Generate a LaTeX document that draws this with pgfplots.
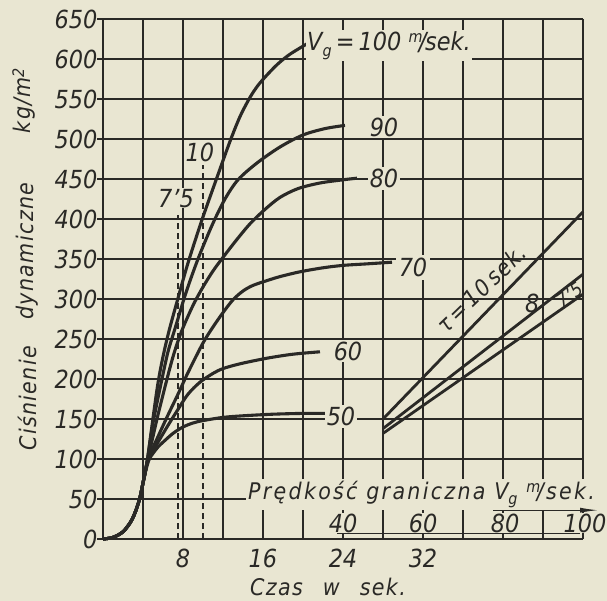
\documentclass[border=0pt]{standalone}
\usepackage{fontspec}
\setmainfont{DejaVu Sans Condensed}
\usepackage{pgfplots}
\pgfplotsset{compat=1.18}
\usetikzlibrary{arrows.meta}
\definecolor{paper}{HTML}{E9E6D2}
\definecolor{ink}{HTML}{2A2926}
\newcommand{\num}{\fontsize{25}{28}\selectfont\itshape}
\newcommand{\txt}{\fontsize{23}{26}\selectfont\itshape\addfontfeature{LetterSpace=6}}
\newcommand{\wtxt}{\fontsize{23}{26}\selectfont\itshape\addfontfeature{LetterSpace=10}}
\newcommand{\lowsub}[1]{\raisebox{-0.45ex}{\fontsize{16}{16}\selectfont #1}}
\newcommand{\highsup}[1]{\raisebox{0.55ex}{\fontsize{16}{16}\selectfont #1}}
\begin{document}
\begin{tikzpicture}[x=1bp,y=1bp]
\useasboundingbox (-103,-62) rectangle (504,539);
\fill[paper] (-103,-62) rectangle (504,539);
\begin{axis}[
  at={(0,0)}, anchor=south west,
  scale only axis, width=480bp, height=520bp,
  xmin=0, xmax=48, ymin=0, ymax=650,
  axis lines*=left,
  axis line style={ink, line width=2.6bp},
  clip=false,
  xtick={0,4,...,48},
  xticklabels={,,8,,16,,24,,32,,,,},
  ytick={0,50,...,650},
  yticklabels={0,50,100,150,200,250,300,350,400,450,500,550,600,650},
  grid=major,
  major grid style={ink, line width=1.35bp},
  tick align=outside,
  xtick style={draw=none},
  ytick style={ink, line width=1.4bp},
  major tick length=6bp,
  tick label style={font=\num, text=ink},
  yticklabel style={xshift=4bp},
]
% curve 100
\addplot[ink, line width=3.1bp, smooth] coordinates {
(0,0) (1,2) (2,9) (2.8,22) (3.3,36) (3.7,52) (4.0,70) (4.2,82)
(4.45,100) (5.5,195) (6.4,250) (7.5,301) (8.5,345) (9.9,399) (11.4,452)
(12.7,497) (13.7,528) (14.7,552) (15.5,567) (16.4,580) (17.5,594) (18.7,606) (20.4,619)};
% curve 90
\addplot[ink, line width=3.1bp, smooth] coordinates {
(0,0) (1,2) (2,9) (2.8,22) (3.3,36) (3.7,52) (4.0,70) (4.2,82)
(4.45,100) (5.0,145) (5.9,200) (6.5,234) (7.2,263) (8.3,308) (9.5,350)
(10.9,392) (12.2,425) (13.5,449) (15.4,470) (17.7,490) (20,505) (22.2,513) (24.2,517)};
% curve 80
\addplot[ink, line width=3.1bp, smooth] coordinates {
(0,0) (1,2) (2,9) (2.8,22) (3.3,36) (3.7,52) (4.0,70) (4.2,82)
(4.5,100) (5.4,150) (6.4,200) (7.1,232) (7.9,261) (9,292) (10,315) (11,335)
(12,352) (13.3,373) (14.7,394) (16.2,412) (17.7,427) (19.5,438) (21.7,445) (24,449) (25.4,451)};
% curve 70
\addplot[ink, line width=3.1bp, smooth] coordinates {
(0,0) (1,2) (2,9) (2.8,22) (3.3,36) (3.7,52) (4.0,70) (4.2,82)
(4.5,100) (5.5,128) (6.5,155) (7.5,181) (8.5,208) (10,245) (11,265) (12,283)
(13,299) (14,310) (15,317) (16.4,323) (17.7,328) (19.7,334) (22,339) (24,342)
(26.5,344) (28.9,346)};
% curve 60
\addplot[ink, line width=3.1bp, smooth] coordinates {
(0,0) (1,2) (2,9) (2.8,22) (3.3,36) (3.7,52) (4.0,70) (4.2,82)
(4.5,100) (5,111) (5.5,121) (6.5,142) (7.4,160) (8.5,181) (9.7,196) (11,207)
(12,213) (13.7,219) (16.4,226) (19,231) (21.7,234)};
% curve 50
\addplot[ink, line width=3.1bp, smooth] coordinates {
(0,0) (1,2) (2,9) (2.8,22) (3.3,36) (3.7,52) (4.0,70) (4.2,82)
(4.6,99) (5,107) (5.5,115) (6,121) (7,132) (8,140) (9,145) (10,148)
(12,152) (14,154) (17,156) (20,157) (22.2,157)};
% dashed verticals
\addplot[ink, line width=1.4bp, dash pattern=on 6bp off 4bp] coordinates {(7.5,0) (7.5,405)};
\addplot[ink, line width=1.4bp, dash pattern=on 6bp off 4bp] coordinates {(10,0) (10,467)};
% labels
\node[font=\num, text=ink, fill=paper, inner sep=1bp] at (axis cs:7.3,426) {7'5};
\node[font=\num, text=ink, fill=paper, inner sep=1bp] at (axis cs:9.7,483) {10};
\node[font=\num, text=ink, fill=paper, inner sep=1bp, anchor=base west] at (axis cs:20.3,611)
  {V\lowsub{g}\,=\,100 \highsup{m}\kern-0.15em/\kern-0.05em sek.};
\node[font=\num, text=ink, fill=paper, inner sep=2bp] at (axis cs:28.1,515) {90};
\node[font=\num, text=ink, fill=paper, inner sep=2bp] at (axis cs:28.1,451) {80};
\node[font=\num, text=ink, fill=paper, inner sep=3bp] at (axis cs:31,339) {70};
\node[font=\num, text=ink, fill=paper, inner sep=2bp] at (axis cs:24.5,235) {60};
\node[font=\num, text=ink, fill=paper, inner sep=2bp] at (axis cs:23.8,153) {50};
\node[font=\wtxt, text=ink, fill=paper, inner sep=2bp, anchor=base west] at (axis cs:14.3,50)
  {Prędkość graniczna V\lowsub{g} \highsup{m}\kern-0.15em/sek.};
\node[font=\txt, text=ink, anchor=base west, inner sep=0pt] at (axis cs:14.7,-70)
  {Czas\hspace{20bp}w\hspace{20bp}sek.};
% y axis title
\node[font=\txt, text=ink, rotate=90] at (axis cs:-7.6,176) {Ciśnienie};
\node[font=\txt, text=ink, rotate=90] at (axis cs:-7.6,360) {dynamiczne};
\node[font=\txt, text=ink, rotate=90] at (axis cs:-7.9,548) {kg/m\highsup{2}};
\end{axis}
% secondary scale: limiting velocity V_g
\begin{axis}[
  at={(0,0)}, anchor=south west,
  scale only axis, width=480bp, height=520bp,
  xmin=-20, xmax=100, ymin=0, ymax=650,
  hide axis, clip=false,
]
\addplot[ink, line width=2.8bp] coordinates {(50,150) (100,409)};
\addplot[ink, line width=2.8bp] coordinates {(50,138) (100,331)};
\addplot[ink, line width=2.8bp] coordinates {(50,132) (100,306)};
\node[font=\txt, text=ink, rotate=44, inner sep=0pt] at (axis cs:74.6,313) {τ\,=\,10\,sek.};
\node[font=\num, text=ink, inner sep=0pt] at (axis cs:87.3,294) {8};
\node[font=\fontsize{19}{22}\selectfont\itshape, text=ink, rotate=35, inner sep=0pt] at (axis cs:96.6,305) {7'5};
\draw[ink, line width=1.1bp] (axis cs:38.5,7) -- (axis cs:99.3,7);
\node[font=\num, text=ink, fill=paper, inner sep=1bp] at (axis cs:40,20) {40};
\node[font=\num, text=ink, fill=paper, inner sep=1bp] at (axis cs:60,20) {60};
\node[font=\num, text=ink, fill=paper, inner sep=1bp] at (axis cs:80.5,20) {80};
\node[font=\num, text=ink, fill=paper, inner sep=1bp] at (axis cs:100.5,20) {100};
\draw[ink, line width=1.1bp, -{Latex[length=18bp,width=5bp]}] (axis cs:77.5,36) -- (axis cs:103.8,36);
\end{axis}
\end{tikzpicture}
\end{document}
